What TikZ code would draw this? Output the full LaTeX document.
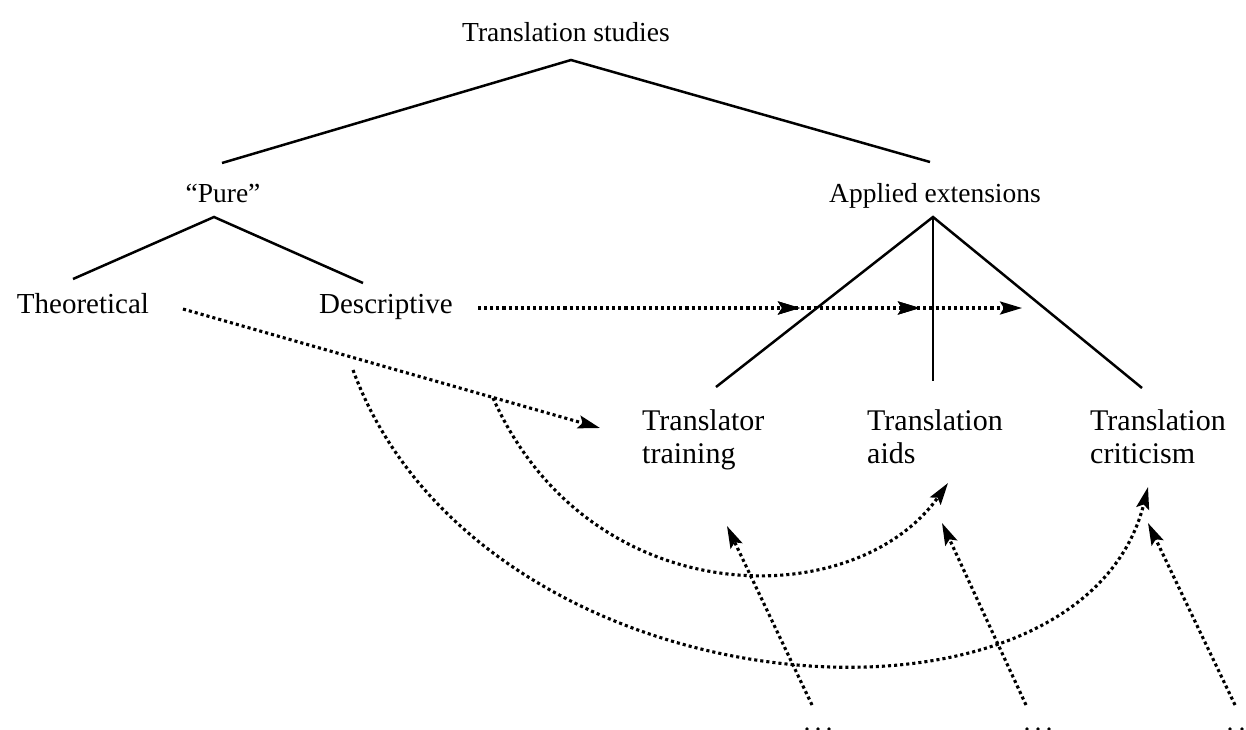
\documentclass[tikz,border=0pt]{standalone}
\usepackage{fontspec}
\setmainfont{Liberation Serif}
\usetikzlibrary{arrows.meta,decorations.markings}
\begin{document}
\begin{tikzpicture}[x=1pt,y=-1pt,
  lbl/.style={inner sep=0pt,anchor=base,font=\fontsize{29}{33}\selectfont},
  toplbl/.style={inner sep=0pt,anchor=base,font=\fontsize{27.5}{33}\selectfont},
  leaf/.style={inner sep=0pt,anchor=north west,align=left,font=\fontsize{30}{33}\selectfont},
  tree/.style={line width=2.5pt},
  dots/.style={line width=3.1pt,dash pattern=on 3.1pt off 3pt},
  tip/.style={-{Stealth[length=22pt,width=13pt,inset=4pt]}},
  midtip/.style={postaction={decorate},decoration={markings,
     mark=at position #1 with {\arrow{Stealth[length=22pt,width=13pt,inset=4pt]}}}},
  cutdot/.style={fill=black,draw=none}
]
\useasboundingbox (0,0) rectangle (1246,729);

% labels
\node[toplbl] (ts) at (566,41) {Translation studies};
\node[toplbl] (pure) at (223,202) {``Pure''};
\node[toplbl] (app) at (935,202) {Applied extensions};
\node[lbl] (theo) at (83,313) {Theoretical};
\node[lbl] (desc) at (386,313) {Descriptive};
\node[leaf] (tt) at (642,409) {Translator\\training};
\node[leaf] (ta) at (867,409) {Translation\\aids};
\node[leaf] (tc) at (1090,409) {Translation\\criticism};

% tree coordinates
\coordinate (tsA) at (571,60);
\coordinate (pureL) at (222,163);
\coordinate (appR) at (930,162);
\coordinate (pureA) at (214,217);
\coordinate (theoE) at (73,279);
\coordinate (descE) at (363,283);
\coordinate (appA) at (933,217);
\coordinate (ttE) at (716,387);
\coordinate (taE) at (933,381);
\coordinate (tcE) at (1142,388);

\draw[tree] (pureL) -- (tsA) -- (appR);
\draw[tree] (theoE) -- (pureA) -- (descE);
\draw[tree] (ttE) -- (appA) -- (tcE);
\draw[tree] (appA) -- (taE);

% dotted connectors
\coordinate (descS) at (478,308);
\coordinate (descT) at (1022,308);
\draw[dots,tip,midtip=0.592,midtip=0.8125] (descS) -- (descT);

\coordinate (theoS) at (183,309);
\coordinate (theoT) at (600,428);
\draw[dots,tip] (theoS) -- (theoT);

\coordinate (c1S) at (493,398);
\coordinate (c1T) at (948,483);
\draw[dots,tip] (c1S) .. controls (590,615) and (855,615) .. (c1T);

\coordinate (c2S) at (353,370);
\coordinate (c2T) at (1148,487);
\draw[dots,tip] (c2S) .. controls (480,715) and (1080,760) .. (c2T);

\coordinate (b1) at (812,705);
\coordinate (b1T) at (727,526);
\coordinate (b2) at (1026,705);
\coordinate (b2T) at (942,523);
\coordinate (b3) at (1235,705);
\coordinate (b3T) at (1148,523);
\draw[dots,tip] (b1) -- (b1T);
\draw[dots,tip] (b2) -- (b2T);
\draw[dots,tip] (b3) -- (b3T);

% cut-off marks at bottom edge
\foreach \x in {807,818,829,1027,1038,1049,1230,1242}
  \fill[cutdot] (\x,729) circle (1.8pt);
\end{tikzpicture}
\end{document}
